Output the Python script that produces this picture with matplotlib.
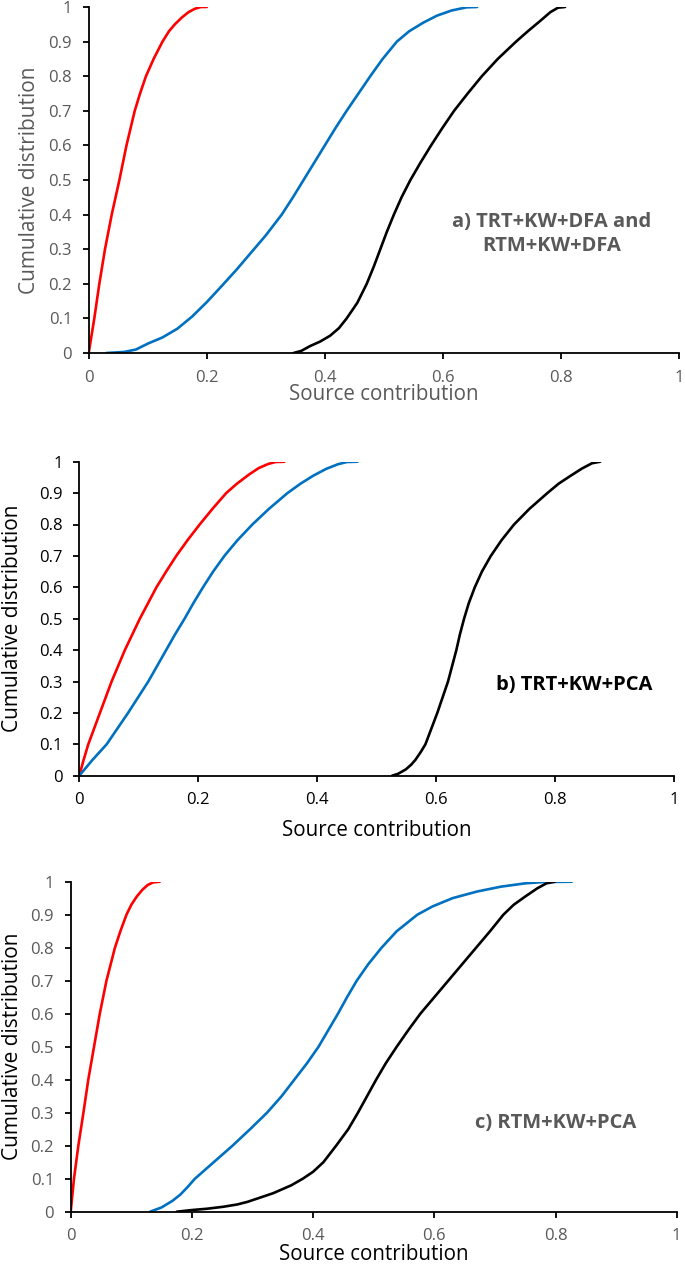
import matplotlib
matplotlib.use("Agg")
import matplotlib.pyplot as plt

# ---------------- data ----------------
x_ticks = [0, 0.2, 0.4, 0.6, 0.8, 1]
x_tick_labels = ["0", "0.2", "0.4", "0.6", "0.8", "1"]
y_ticks = [0, 0.1, 0.2, 0.3, 0.4, 0.5, 0.6, 0.7, 0.8, 0.9, 1]
y_tick_labels = ["0", "0.1", "0.2", "0.3", "0.4", "0.5", "0.6", "0.7", "0.8", "0.9", "1"]

# Panel a
a_red_x = [0, 0.0095, 0.018, 0.0276, 0.039, 0.052, 0.064, 0.078, 0.087, 0.097, 0.110, 0.125, 0.136, 0.146, 0.158, 0.169, 0.18, 0.19, 0.2]
a_red_y = [0, 0.1, 0.2, 0.3, 0.4, 0.5, 0.6, 0.7, 0.75, 0.8, 0.85, 0.9, 0.93, 0.95, 0.97, 0.985, 0.995, 1, 1]
a_blue_x = [0.03, 0.06, 0.08, 0.1, 0.125, 0.15, 0.175, 0.2, 0.225, 0.25, 0.275, 0.3, 0.327, 0.346, 0.364, 0.382, 0.40, 0.418, 0.437, 0.457, 0.477, 0.498, 0.522, 0.543, 0.567, 0.59, 0.615, 0.64, 0.658]
a_blue_y = [0, 0.003, 0.01, 0.027, 0.045, 0.07, 0.105, 0.147, 0.193, 0.24, 0.29, 0.34, 0.4, 0.45, 0.5, 0.55, 0.6, 0.65, 0.7, 0.75, 0.8, 0.85, 0.9, 0.93, 0.955, 0.975, 0.99, 0.999, 1]
a_black_x = [0.347, 0.36, 0.375, 0.392, 0.409, 0.424, 0.437, 0.455, 0.471, 0.483, 0.494, 0.505, 0.517, 0.530, 0.545, 0.562, 0.580, 0.599, 0.619, 0.642, 0.666, 0.693, 0.724, 0.744, 0.765, 0.782, 0.795, 0.807]
a_black_y = [0, 0.006, 0.02, 0.033, 0.05, 0.072, 0.1, 0.145, 0.2, 0.25, 0.3, 0.35, 0.4, 0.45, 0.5, 0.55, 0.6, 0.65, 0.7, 0.75, 0.8, 0.85, 0.9, 0.93, 0.96, 0.985, 0.998, 1]

# Panel b
b_red_x = [0, 0.0072, 0.0151, 0.0347, 0.0543, 0.0766, 0.1018, 0.1297, 0.146, 0.163, 0.182, 0.2024, 0.224, 0.247, 0.265, 0.286, 0.302, 0.318, 0.33, 0.345]
b_red_y = [0, 0.05, 0.1, 0.2, 0.3, 0.4, 0.5, 0.6, 0.65, 0.7, 0.75, 0.8, 0.85, 0.9, 0.93, 0.96, 0.98, 0.993, 0.999, 1]
b_blue_x = [0, 0.022, 0.046, 0.064, 0.082, 0.099, 0.116, 0.131, 0.146, 0.161, 0.177, 0.192, 0.208, 0.225, 0.244, 0.266, 0.291, 0.319, 0.35, 0.372, 0.393, 0.415, 0.435, 0.45, 0.468]
b_blue_y = [0, 0.05, 0.1, 0.15, 0.2, 0.25, 0.3, 0.35, 0.4, 0.45, 0.5, 0.55, 0.6, 0.65, 0.7, 0.75, 0.8, 0.85, 0.9, 0.93, 0.955, 0.977, 0.992, 0.999, 1]
b_black_x = [0.526, 0.536, 0.549, 0.558, 0.565, 0.574, 0.582, 0.592, 0.602, 0.611, 0.620, 0.627, 0.634, 0.640, 0.647, 0.655, 0.665, 0.677, 0.692, 0.710, 0.731, 0.757, 0.787, 0.806, 0.826, 0.845, 0.862, 0.876]
b_black_y = [0, 0.006, 0.02, 0.035, 0.05, 0.075, 0.1, 0.15, 0.2, 0.25, 0.3, 0.35, 0.4, 0.45, 0.5, 0.55, 0.6, 0.65, 0.7, 0.75, 0.8, 0.85, 0.9, 0.93, 0.955, 0.978, 0.995, 1]

# Panel c
c_red_x = [0, 0.0054, 0.0126, 0.021, 0.029, 0.0385, 0.048, 0.059, 0.066, 0.073, 0.082, 0.092, 0.100, 0.109, 0.118, 0.127, 0.136, 0.147]
c_red_y = [0, 0.1, 0.2, 0.3, 0.4, 0.5, 0.6, 0.7, 0.75, 0.8, 0.85, 0.9, 0.93, 0.955, 0.975, 0.99, 0.998, 1]
c_blue_x = [0.131, 0.15, 0.168, 0.181, 0.193, 0.205, 0.236, 0.267, 0.296, 0.324, 0.348, 0.369, 0.39, 0.409, 0.425, 0.441, 0.456, 0.472, 0.491, 0.513, 0.538, 0.572, 0.597, 0.63, 0.67, 0.71, 0.75, 0.78, 0.827]
c_blue_y = [0, 0.013, 0.033, 0.052, 0.075, 0.1, 0.15, 0.2, 0.25, 0.3, 0.35, 0.4, 0.45, 0.5, 0.55, 0.6, 0.65, 0.7, 0.75, 0.8, 0.85, 0.9, 0.925, 0.95, 0.97, 0.985, 0.995, 0.999, 1]
c_black_x = [0.175, 0.2, 0.225, 0.252, 0.275, 0.292, 0.334, 0.364, 0.383, 0.40, 0.417, 0.438, 0.458, 0.474, 0.489, 0.504, 0.520, 0.538, 0.557, 0.577, 0.600, 0.623, 0.646, 0.669, 0.692, 0.714, 0.731, 0.75, 0.77, 0.785, 0.799]
c_black_y = [0, 0.005, 0.009, 0.015, 0.022, 0.03, 0.056, 0.08, 0.1, 0.121, 0.15, 0.2, 0.25, 0.3, 0.35, 0.4, 0.45, 0.5, 0.55, 0.6, 0.65, 0.7, 0.75, 0.8, 0.85, 0.9, 0.93, 0.955, 0.98, 0.995, 1]

panel_titles = ["a) TRT+KW+DFA and\nRTM+KW+DFA", "b) TRT+KW+PCA", "c) RTM+KW+PCA"]
x_label = "Source contribution"
y_label = "Cumulative distribution"

# ---------------- layout ----------------
W, H = 685, 1265
plt.rcParams['font.family'] = ['Open Sans', 'DejaVu Sans']
fig = plt.figure(figsize=(W / 100, H / 100), dpi=100)

def px_axes(left, top, right, bottom):
    return fig.add_axes([left / W, 1 - bottom / H, (right - left) / W, (bottom - top) / H])

GRAY = "#595959"
RED = "#FF0000"
BLUE = "#0070C0"

panels = [
    dict(box=(88.7, 7, 679, 353), tick_c=GRAY, ylab_c=GRAY, xlab_c=GRAY, title_c=GRAY,
         series=[(a_red_x, a_red_y, RED), (a_blue_x, a_blue_y, BLUE), (a_black_x, a_black_y, "black")],
         title_xy=(0.785, 0.344), xlab_y=394, ylab_x=30),
    dict(box=(79.3, 461.7, 674, 775.7), tick_c="black", ylab_c="black", xlab_c="black", title_c="black",
         series=[(b_red_x, b_red_y, RED), (b_blue_x, b_blue_y, BLUE), (b_black_x, b_black_y, "black")],
         title_xy=(0.833, 0.289), xlab_y=831, ylab_x=13),
    dict(box=(70.7, 881.7, 676.7, 1211.7), tick_c=GRAY, ylab_c="black", xlab_c="black", title_c=GRAY,
         series=[(c_red_x, c_red_y, RED), (c_blue_x, c_blue_y, BLUE), (c_black_x, c_black_y, "black")],
         title_xy=(0.80, 0.269), xlab_y=1255, ylab_x=13),
]

for i, p in enumerate(panels):
    l, t, r, b = p["box"]
    ax = px_axes(l, t, r, b)
    for xs, ys, col in p["series"]:
        ax.plot(xs, ys, color=col, lw=1.9, solid_joinstyle="round", solid_capstyle="round")
    ax.set_xlim(0, 1)
    ax.set_ylim(0, 1)
    ax.set_xticks(x_ticks)
    ax.set_xticklabels(x_tick_labels)
    ax.set_yticks(y_ticks)
    ax.set_yticklabels(y_tick_labels)
    for s in ["top", "right"]:
        ax.spines[s].set_visible(False)
    for s in ["left", "bottom"]:
        ax.spines[s].set_linewidth(1.3)
        ax.spines[s].set_color("black")
    ax.tick_params(axis="both", direction="out", length=4, width=1.3, color="black",
                   labelsize=12, labelcolor=p["tick_c"])
    ax.tick_params(axis="x", pad=8)
    ax.tick_params(axis="y", pad=8)
    ax.patch.set_alpha(0)
    ax.text(p["title_xy"][0], p["title_xy"][1], panel_titles[i], transform=ax.transAxes,
            ha="center", va="center", fontsize=14.5, fontweight="bold", color=p["title_c"],
            linespacing=1.3)
    fig.text((l + r) / 2 / W, 1 - p["xlab_y"] / H, x_label, ha="center", va="center",
             fontsize=14.8, color=p["xlab_c"])
    fig.text(p["ylab_x"] / W, 1 - ((t + b) / 2) / H, y_label, ha="center", va="center",
             rotation=90, fontsize=15, color=p["ylab_c"])

fig.savefig("out.png", dpi=100, facecolor="white")
